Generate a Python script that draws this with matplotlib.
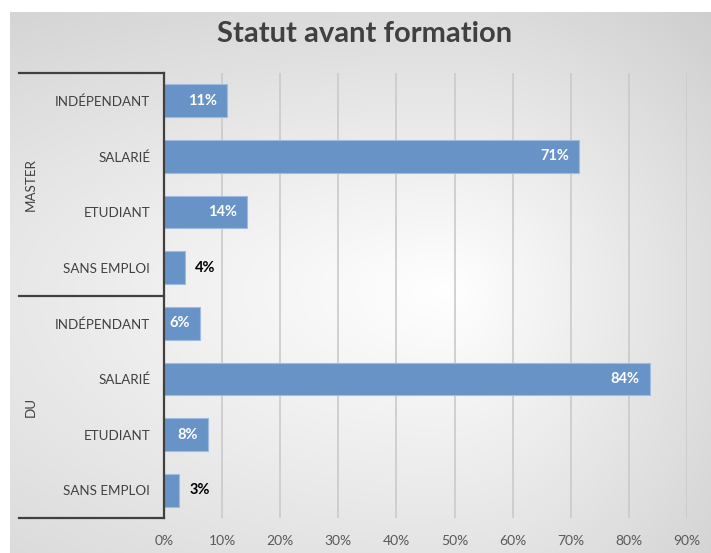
import numpy as np
import matplotlib
matplotlib.use("Agg")
import matplotlib.pyplot as plt
from matplotlib.lines import Line2D

plt.rcParams['font.family'] = ['Lato', 'DejaVu Sans']

title = "Statut avant formation"
groups = ["MASTER", "DU"]
categories = ["INDÉPENDANT", "SALARIÉ", "ETUDIANT", "SANS EMPLOI"]
master_values = [10.8, 71.4, 14.3, 3.6]
du_values = [6.2, 83.6, 7.6, 2.6]
xticks = [0, 10, 20, 30, 40, 50, 60, 70, 80, 90]

W, H = 711, 553
fig = plt.figure(figsize=(W / 100, H / 100), dpi=100)
fig.patch.set_facecolor('white')

# background gradient panel
bg = fig.add_axes([10 / W, 0, (W - 10) / W, (H - 12) / H], zorder=0)
yy, xx = np.mgrid[12:H, 10:W]
cx, cy = 450, 290
dx = xx - cx
dy = yy - cy
sx = np.where(dx < 0, 0.42, 1.0)
sy = np.where(dy < 0, 1.0, 0.8)
d = np.sqrt((dx * sx) ** 2 + (dy * sy) ** 2)
v = np.clip(1 - 0.00050 * d, 0.78, 1.0)
bg.imshow(np.dstack([v, v, v]), aspect='auto', extent=[0, 1, 0, 1], origin='upper')
bg.axis('off')

left, right = 164 / W, 687 / W
top, bottom = 1 - 73 / H, 1 - 518 / H
ax = fig.add_axes([left, bottom, right - left, top - bottom], zorder=1)
ax.patch.set_alpha(0)

values = master_values + du_values
labels = categories + categories
ypos = np.arange(len(values))
ax.barh(ypos, values, height=0.59, color='#6893c6', edgecolor='#9fbbe0', linewidth=0.8, zorder=3)

ax.set_xlim(0, 90)
ax.set_ylim(len(values) - 0.5, -0.5)
ax.set_xticks(xticks)
ax.set_xticklabels([f"{t}%" for t in xticks], fontsize=10, color='#595959')
ax.set_yticks(ypos)
ax.set_yticklabels(labels, fontsize=9.6, color='#404040')
ax.tick_params(axis='x', length=0, pad=12)
ax.tick_params(axis='y', length=0, pad=10)
for t in xticks[1:]:
    ax.axvline(t, color='#cacaca', lw=1.2, zorder=1)
for s in ['top', 'right', 'bottom']:
    ax.spines[s].set_visible(False)
ax.spines['left'].set_color('#404040')
ax.spines['left'].set_linewidth(1.6)
ax.spines['left'].set_zorder(4)

for y, val in zip(ypos, values):
    txt = f"{round(val)}%"
    if val > 5:
        ax.annotate(txt, (val, y), xytext=(-10, 0), textcoords='offset pixels',
                    ha='right', va='center', color='white', fontsize=10.5, fontweight='bold', zorder=5)
    else:
        ax.annotate(txt, (val, y), xytext=(10, 0), textcoords='offset pixels',
                    ha='left', va='center', color='black', fontsize=10.5, fontweight='bold', zorder=5)

# group bracket lines
for b in [-0.5, 3.5, 7.5]:
    yf = ax.transData.transform((0, b))[1] / H
    fig.add_artist(Line2D([19 / W, left], [yf, yf], color='#404040', lw=1.6, zorder=5))

# group labels
for gi, g in enumerate(groups):
    yc = ax.transData.transform((0, gi * 4 + 1.5))[1] / H
    fig.text(31 / W, yc, g, rotation=90, ha='center', va='center', fontsize=9.6, color='#404040', zorder=5)

fig.text(365 / W, 1 - 34 / H, title, ha='center', va='center', fontsize=21, fontweight='bold', color='#404040')

fig.savefig('out.png', dpi=100)
